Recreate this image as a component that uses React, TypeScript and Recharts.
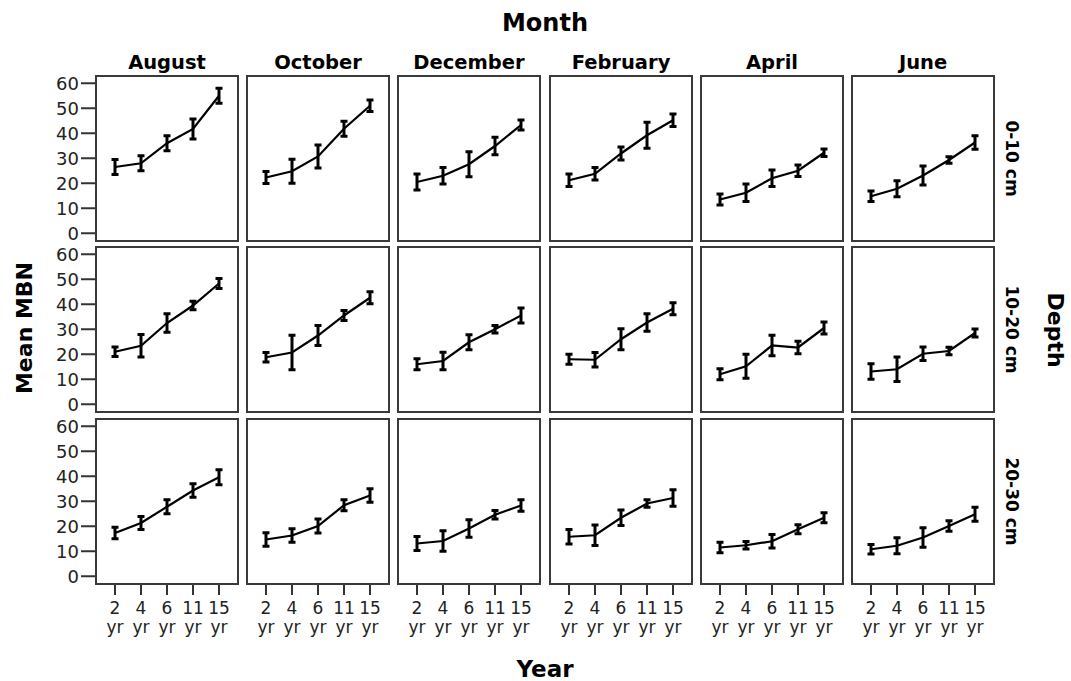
import React from 'react';
import { LineChart, Line, XAxis, YAxis, ErrorBar } from 'recharts';

// ---------- data ----------
const years = ['2 yr', '4 yr', '6 yr', '11 yr', '15 yr'];
const months = ['August', 'October', 'December', 'February', 'April', 'June'];
const depths = ['0-10 cm', '10-20 cm', '20-30 cm'];
const yTicks = [0, 10, 20, 30, 40, 50, 60];

// rows: 0-10 cm, 10-20 cm, 20-30 cm
const augustMean = [[26.5, 28, 36, 41.7, 55], [21, 23.4, 32.5, 39.5, 48.3], [17.3, 21.3, 27.8, 34.3, 39.6]];
const augustErr = [[3, 3, 3, 4, 3], [1.9, 4.5, 3.7, 1.7, 2], [2.3, 2.6, 2.8, 2.7, 3]];
const octoberMean = [[22.3, 24.8, 30.7, 41.8, 51], [18.8, 20.7, 27.5, 35.5, 42.6], [14.7, 16.3, 20.1, 28.4, 32.3]];
const octoberErr = [[2.4, 4.8, 4.6, 3, 2.3], [1.9, 6.9, 4, 2, 2.4], [2.7, 2.7, 2.8, 2.2, 2.7]];
const decemberMean = [[20.5, 23, 27.6, 34.9, 43.3], [16, 17.3, 24.8, 30, 35.5], [13.1, 14.1, 19.1, 24.6, 28.3]];
const decemberErr = [[3.2, 3.3, 5, 3.5, 2], [2.2, 3.5, 3, 1.5, 3], [2.8, 4.1, 3.5, 1.7, 2.3]];
const februaryMean = [[21.2, 23.8, 31.9, 39.2, 45.2], [18, 17.8, 26, 32.7, 38.2], [15.8, 16.4, 23.4, 29.1, 31.3]];
const februaryErr = [[2.5, 2.5, 2.6, 5.2, 2.5], [2, 2.9, 4.2, 3.5, 2.4], [2.9, 4.1, 3.1, 1.5, 3.3]];
const aprilMean = [[13.5, 16.2, 22, 25, 32.2], [12, 15.2, 23.5, 22.7, 30.5], [11.5, 12.4, 14, 18.8, 23.4]];
const aprilErr = [[2.2, 3.5, 3.3, 2.3, 1.5], [2.2, 4.8, 4.1, 2.5, 2.4], [2.1, 1.5, 2.7, 1.8, 2]];
const juneMean = [[14.8, 17.8, 23.1, 29.3, 36.3], [13.1, 14, 20.2, 21.3, 28.5], [10.8, 12.2, 15.5, 20.1, 24.8]];
const juneErr = [[2.1, 3.2, 3.8, 1.3, 2.7], [3.1, 4.9, 2.7, 1.5, 1.6], [1.9, 3.2, 3.9, 2.1, 2.8]];

const allMeans = [augustMean, octoberMean, decemberMean, februaryMean, aprilMean, juneMean];
const allErrs = [augustErr, octoberErr, decemberErr, februaryErr, aprilErr, juneErr];

// ---------- layout ----------
const COL_LEFT = [95, 246, 397, 549, 700, 851];
const ROW_TOP = [75, 246, 418];
const PW = 144;
const PH = 167;
const Y_AXIS_W = 50;
const X_AXIS_H = 60;
const EXTRA = 10;
const FONT = '"DejaVu Sans", sans-serif';

const XTick = (props: any) => {
  const { x, y, payload } = props;
  const [n, u] = String(payload.value).split(' ');
  return (
    <g>
      <text x={x} y={y + 19} textAnchor="middle" fontSize={17} fontFamily={FONT} fill="#222">{n}</text>
      <text x={x} y={y + 38} textAnchor="middle" fontSize={17} fontFamily={FONT} fill="#222">{u}</text>
    </g>
  );
};

const YTick = (props: any) => {
  const { x, y, payload } = props;
  return (
    <text x={x} y={y} dy={7} textAnchor="end" fontSize={18} fontFamily={FONT} fill="#222">
      {payload.value}
    </text>
  );
};

function Panel({ row, col }: { row: number; col: number }) {
  const showY = col === 0;
  const showX = row === 2;
  const yW = showY ? Y_AXIS_W : 0;
  const xH = showX ? X_AXIS_H : 0;
  const extraTop = showY ? EXTRA : 0;
  const extraBottom = showY && !showX ? EXTRA : 0;
  const means = allMeans[col][row];
  const errs = allErrs[col][row];
  const data = years.map((yr, i) => ({ year: yr, mean: means[i], err: errs[i] }));
  const left = COL_LEFT[col];
  const top = ROW_TOP[row];
  return (
    <>
      <div style={{ position: 'absolute', left: left - yW, top: top - extraTop }}>
        <LineChart
          width={PW + yW}
          height={PH + xH + extraTop + extraBottom}
          data={data}
          margin={{ top: extraTop, right: 0, bottom: extraBottom, left: 0 }}
        >
          <XAxis
            dataKey="year"
            type="category"
            scale="point"
            hide={!showX}
            height={xH}
            padding={{ left: 20, right: 20 }}
            axisLine={false}
            tickLine={{ stroke: '#333', strokeWidth: 2 }}
            tickSize={10}
            tickMargin={0}
            interval={0}
            tick={<XTick />}
          />
          <YAxis
            type="number"
            hide={!showY}
            width={yW}
            domain={[-3.5, 63.3]}
            allowDataOverflow
            ticks={yTicks}
            interval={0}
            axisLine={false}
            tickLine={{ stroke: '#333', strokeWidth: 2 }}
            tickSize={14}
            tickMargin={2}
            tick={<YTick />}
          />
          <Line dataKey="mean" stroke="#000" strokeWidth={2.2} dot={false} isAnimationActive={false}>
            <ErrorBar dataKey="err" direction="y" width={3.5} strokeWidth={3} stroke="#000" isAnimationActive={false} />
          </Line>
        </LineChart>
      </div>
      <div
        style={{
          position: 'absolute',
          left,
          top,
          width: PW,
          height: PH,
          border: '2px solid #3a3a3a',
          boxSizing: 'border-box',
          pointerEvents: 'none',
        }}
      />
    </>
  );
}

export default function App() {
  const centerX = (COL_LEFT[0] + COL_LEFT[5] + PW) / 2;
  return (
    <div style={{ position: 'absolute', left: 0, top: 0, width: 1071, height: 681, background: '#fff', overflow: 'hidden' }}>
      {depths.map((_, r) => months.map((_, c) => <Panel key={`${r}-${c}`} row={r} col={c} />))}
      <svg width={1071} height={681} style={{ position: 'absolute', left: 0, top: 0, pointerEvents: 'none' }}>
        <text x={centerX} y={31} textAnchor="middle" fontSize={24} fontWeight="bold" fontFamily={FONT} fill="#000">Month</text>
        {months.map((m, c) => (
          <text key={m} x={COL_LEFT[c] + PW / 2} y={69} textAnchor="middle" fontSize={19.5} fontWeight="bold" fontFamily={FONT} fill="#000">
            {m}
          </text>
        ))}
        {depths.map((d, r) => (
          <text
            key={d}
            transform={`translate(1006, ${ROW_TOP[r] + PH / 2}) rotate(90)`}
            textAnchor="middle"
            fontSize={17}
            fontWeight="bold"
            fontFamily={FONT}
            fill="#000"
          >
            {d}
          </text>
        ))}
        <text transform="translate(1048, 330) rotate(90)" textAnchor="middle" fontSize={22} fontWeight="bold" fontFamily={FONT} fill="#000">Depth</text>
        <text transform="translate(32, 328) rotate(-90)" textAnchor="middle" fontSize={22} fontWeight="bold" fontFamily={FONT} fill="#000">Mean MBN</text>
        <text x={centerX} y={677} textAnchor="middle" fontSize={23} fontWeight="bold" fontFamily={FONT} fill="#000">Year</text>
      </svg>
    </div>
  );
}
